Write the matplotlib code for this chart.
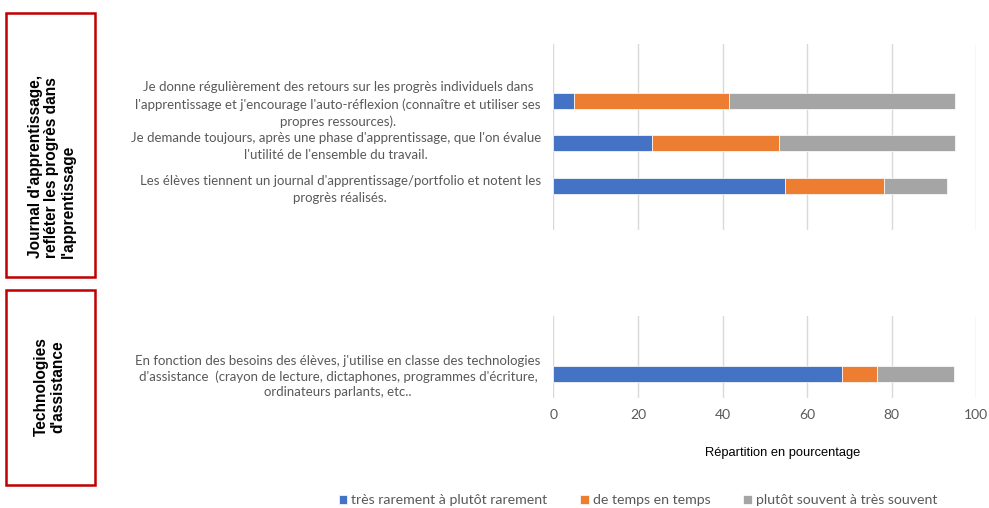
import numpy as np
import matplotlib.pyplot as plt
from matplotlib.patches import Rectangle

# survey items, top panel (listed top to bottom) and bottom panel
items_top = [
    "Je donne régulièrement des retours sur les progrès individuels dans\n"
    "l'apprentissage et j'encourage l'auto-réflexion (connaître et utiliser ses\n"
    "propres ressources).",
    "Je demande toujours, après une phase d'apprentissage, que l'on évalue\n"
    "l'utilité de l'ensemble du travail.",
    "Les élèves tiennent un journal d'apprentissage/portfolio et notent les\n"
    "progrès réalisés.",
]
items_bottom = [
    "En fonction des besoins des élèves, j'utilise en classe des technologies\n"
    "d'assistance  (crayon de lecture, dictaphones, programmes d'écriture,\n"
    "ordinateurs parlants, etc..",
]

# percentages per answer category
rarement_top = [5.0, 23.3, 54.8]
temps_top = [36.5, 30.1, 23.4]
souvent_top = [53.5, 41.6, 14.9]

rarement_bottom = [68.2]
temps_bottom = [8.4]
souvent_bottom = [18.2]

series_names = ["très rarement à plutôt rarement", "de temps en temps",
                "plutôt souvent à très souvent"]
colors = ["#4472C4", "#ED7D31", "#A5A5A5"]
group_titles = ["Journal d'apprentissage,\nrefléter les progrès dans\nl'apprentissage",
                "Technologies\nd'assistance"]
xticks = [0, 20, 40, 60, 80, 100]

W, H = 989, 508
fig = plt.figure(figsize=(W / 100, H / 100), dpi=100)

label_font = "Lato"
label_color = "#595959"


def panel(rect, labels, series, ylim, show_ticks, ls):
    ax = fig.add_axes(rect)
    n = len(labels)
    pos = np.arange(n)[::-1]
    left = np.zeros(n)
    for vals, c, name in zip(series, colors, series_names):
        ax.barh(pos, vals, left=left, height=0.38, color=c,
                edgecolor="white", linewidth=0.5, label=name, zorder=3)
        left += np.array(vals)
    ax.set_xlim(0, 100)
    ax.set_ylim(*ylim)
    ax.set_xticks(xticks)
    ax.grid(axis="x", color="#D9D9D9", linewidth=1, zorder=0)
    ax.set_yticks(pos)
    ax.set_yticklabels(labels, fontsize=9.55, color=label_color,
                       family=label_font, multialignment="center",
                       linespacing=ls)
    ax.tick_params(axis="y", length=0, pad=9)
    ax.tick_params(axis="x", length=0, pad=8, labelsize=10,
                   labelcolor=label_color)
    for lab in ax.get_xticklabels():
        lab.set_family(label_font)
    if not show_ticks:
        ax.tick_params(axis="x", labelbottom=False)
    for s in ax.spines.values():
        s.set_visible(False)
    return ax


x0 = 553.3 / W
w = 423 / W
ax1 = panel([x0, 1 - 230 / H, w, 186 / H], items_top,
            [rarement_top, temps_top, souvent_top], (-1.04, 3.34), False, 1.5)
ax2 = panel([x0, 1 - 398 / H, w, 82 / H], items_bottom,
            [rarement_bottom, temps_bottom, souvent_bottom], (-0.565, 1.365), True, 1.33)

fig.text(783 / W, 1 - 453 / H, "Répartition en pourcentage", ha="center",
         va="center", fontsize=9.3, family="Liberation Sans")

# red group boxes on the left
boxes = [(6, 13, 89, 264), (6, 290, 89, 195)]
for (bx, by, bw, bh), title in zip(boxes, group_titles):
    fig.patches.append(Rectangle((bx / W, 1 - (by + bh) / H), bw / W, bh / H,
                                 transform=fig.transFigure, fill=False,
                                 edgecolor="#C00000", linewidth=1.8))
fig.text(52 / W, 1 - 258 / H, group_titles[0], rotation=90, ha="center",
         va="bottom", multialignment="left", fontsize=11.2, fontweight="bold",
         family="Liberation Sans", linespacing=1.12)
fig.text(49.5 / W, 1 - 387 / H, group_titles[1], rotation=90, ha="center",
         va="center", multialignment="center", fontsize=11.2, fontweight="bold",
         family="Liberation Sans", linespacing=1.1)

handles, labs = ax2.get_legend_handles_labels()
leg = fig.legend(handles, labs, loc="center", ncol=3,
                 bbox_to_anchor=(638 / W, 1 - 500 / H), frameon=False,
                 prop={"family": label_font, "size": 10.2}, handlelength=0.6,
                 handleheight=0.6, handletextpad=0.3, columnspacing=2.3)
for t in leg.get_texts():
    t.set_color(label_color)

fig.savefig("out.png", dpi=100)
